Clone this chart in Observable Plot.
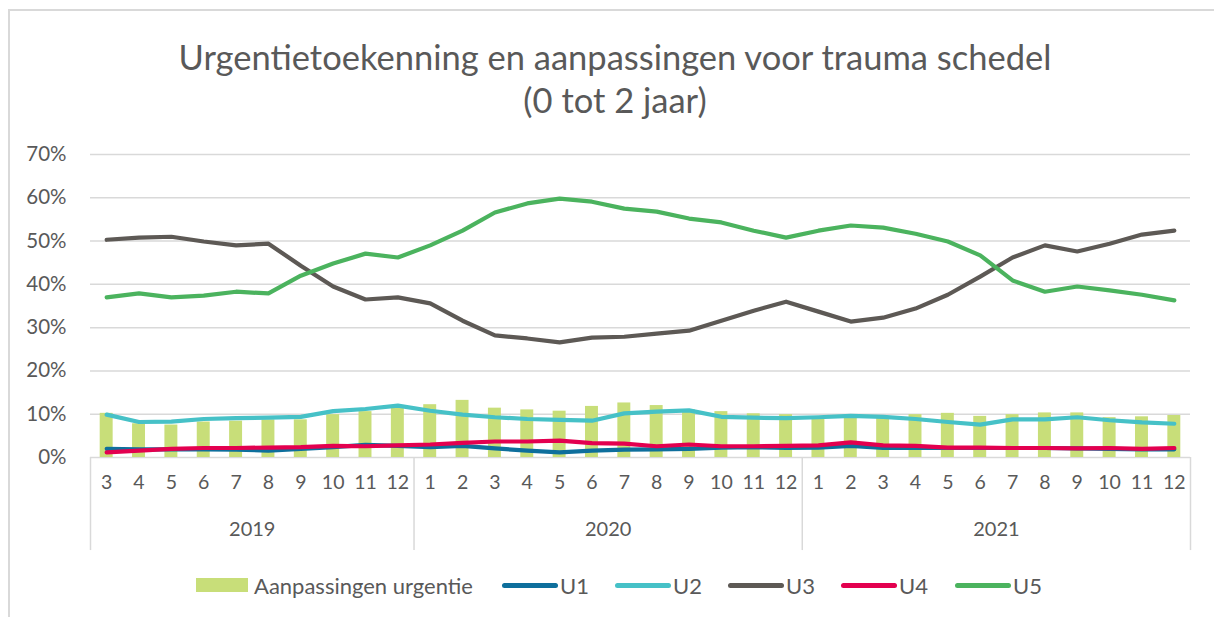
<!DOCTYPE html>
<html><head><meta charset="utf-8">
<script src="https://cdn.jsdelivr.net/npm/d3@7"></script>
<script src="https://cdn.jsdelivr.net/npm/@observablehq/plot@0.6"></script>
<style>
body{margin:0;background:#fff;overflow:hidden;width:1214px;height:617px;font-family:Lato,"Open Sans",sans-serif;color:#595959;}
#frame{position:absolute;left:8px;top:9px;width:1400px;height:800px;border:2px solid #d9d9d9;box-sizing:border-box;}
#title{position:absolute;left:8px;top:35px;width:1214px;text-align:center;font-size:34.5px;line-height:43px;}
#chart{position:absolute;left:0;top:130px;}
#legend{position:absolute;top:571px;left:0;width:1214px;height:28px;font-size:22px;}
#legend .item{position:absolute;top:0;height:28px;display:flex;align-items:center;white-space:nowrap;}
#legend .sw{width:52px;height:14px;margin-right:6px;}
#legend .ln{width:56px;height:5px;border-radius:3px;margin-right:2px;}
</style></head>
<body>
<div id="frame"></div>
<div id="title">Urgentietoekenning en aanpassingen voor trauma schedel<br>(0 tot 2 jaar)</div>
<div id="chart"></div>
<div id="legend"></div>
<script>
const years = ["2019", "2020", "2021"];
const months = [
  [3, 4, 5, 6, 7, 8, 9, 10, 11, 12],
  [1, 2, 3, 4, 5, 6, 7, 8, 9, 10, 11, 12],
  [1, 2, 3, 4, 5, 6, 7, 8, 9, 10, 11, 12]
];
// values in %
const aanpassingen = [
  10.2, 7.8, 7.5, 8.2, 8.4, 8.7, 8.7, 9.9, 10.6, 11.5,
  12.2, 13.2, 11.4, 11.0, 10.7, 11.8, 12.6, 12.0, 11.0, 10.6, 10.1, 9.9,
  9.0, 9.5, 9.0, 9.9, 10.2, 9.5, 9.9, 10.3, 10.3, 9.2, 9.4, 9.7
];
const U1 = [
  2.0, 1.9, 1.9, 1.9, 1.8, 1.6, 2.0, 2.4, 2.9, 2.7,
  2.4, 2.7, 2.1, 1.6, 1.2, 1.6, 1.8, 1.9, 2.0, 2.3, 2.4, 2.2,
  2.3, 2.7, 2.2, 2.2, 2.2, 2.2, 2.2, 2.2, 2.1, 2.0, 1.9, 1.9
];
const U2 = [
  9.9, 8.2, 8.3, 8.9, 9.1, 9.2, 9.4, 10.7, 11.2, 12.0,
  10.8, 9.9, 9.3, 8.9, 8.7, 8.5, 10.2, 10.6, 10.9, 9.4, 9.2, 9.1,
  9.3, 9.6, 9.4, 8.9, 8.2, 7.6, 8.8, 8.8, 9.3, 8.6, 8.1, 7.8
];
const U3 = [
  50.3, 50.8, 51.0, 49.9, 49.0, 49.4, 44.3, 39.5, 36.5, 37.0,
  35.6, 31.6, 28.2, 27.5, 26.6, 27.7, 27.9, 28.6, 29.3, 31.6, 33.9, 36.0,
  33.7, 31.4, 32.3, 34.4, 37.6, 41.8, 46.2, 49.0, 47.6, 49.4, 51.5, 52.4
];
const U4 = [
  1.2, 1.6, 2.0, 2.2, 2.2, 2.3, 2.4, 2.7, 2.6, 2.8,
  3.0, 3.4, 3.7, 3.7, 3.9, 3.3, 3.2, 2.6, 3.0, 2.6, 2.6, 2.7,
  2.8, 3.5, 2.8, 2.7, 2.3, 2.3, 2.2, 2.2, 2.1, 2.2, 2.0, 2.2
];
const U5 = [
  37.0, 37.9, 37.0, 37.4, 38.3, 37.9, 42.0, 44.8, 47.1, 46.2,
  49.0, 52.4, 56.6, 58.7, 59.8, 59.1, 57.5, 56.8, 55.2, 54.3, 52.4, 50.8,
  52.4, 53.6, 53.1, 51.7, 49.9, 46.7, 40.9, 38.3, 39.5, 38.6, 37.6, 36.3
];
const yTicks = [0, 0.1, 0.2, 0.3, 0.4, 0.5, 0.6, 0.7];
const seriesNames = ["U1", "U2", "U3", "U4", "U5"];
const seriesColors = ["#0e6f9c", "#46c1c7", "#5d5955", "#e3004f", "#4bb35e"];
const barName = "Aanpassingen urgentie";
const barColor = "#c8de79";

// build rows
const rows = [];
years.forEach((yr, gi) => months[gi].forEach(m => rows.push({key: yr + "-" + m, year: yr, month: String(m)})));
const seriesData = [U1, U2, U3, U4, U5];
rows.forEach((r, i) => {
  r.aanp = aanpassingen[i] / 100;
  seriesNames.forEach((n, s) => r[n] = seriesData[s][i] / 100);
});
const keys = rows.map(r => r.key);

const W = 1214, H = 430, ML = 90, MR = 24, MT = 24, MB = 103;
const bw = (W - ML - MR) / keys.length;

// group boundaries & year centers (all groups have an even number of months)
const boundaries = years.map((yr, gi) => yr + "-" + months[gi][0]);
const yearCenters = years.map((yr, gi) => ({year: yr, key: yr + "-" + months[gi][Math.floor(months[gi].length / 2)]}));

const chart = Plot.plot({
  width: W, height: H,
  marginLeft: ML, marginRight: MR, marginTop: MT, marginBottom: MB,
  x: {type: "band", domain: keys, padding: 0, round: false, axis: null},
  y: {domain: [0, 0.7], axis: null},
  style: {fontFamily: "Lato, 'Open Sans', sans-serif", fontSize: "19px", color: "#595959", background: "transparent", overflow: "visible"},
  marks: [
    Plot.ruleY(yTicks, {y: d => d, stroke: "#d9d9d9", strokeWidth: 1.5}),
    Plot.axisY({ticks: yTicks, tickFormat: d => Math.round(d * 100) + "%", tickSize: 0, tickPadding: 24, label: null, fontSize: 20.5, fill: "#595959"}),
    Plot.barY(rows, {x: "key", y: "aanp", fill: barColor, insetLeft: 9.7, insetRight: 9.7}),
    ...seriesNames.map((n, s) => Plot.line(rows, {x: "key", y: n, stroke: seriesColors[s], strokeWidth: 4.2, strokeLinecap: "round", strokeLinejoin: "round"})),
    // category axis decorations
    Plot.ruleX(boundaries, {x: d => d, y1: 0, y2: -0.215, dx: -bw / 2, stroke: "#d9d9d9", strokeWidth: 1.5}),
    Plot.ruleX([keys[keys.length - 1]], {x: d => d, y1: 0, y2: -0.215, dx: bw / 2, stroke: "#d9d9d9", strokeWidth: 1.5}),
    Plot.text(rows, {x: "key", text: "month", frameAnchor: "bottom", dy: 31, fill: "#595959", fontSize: 19.5}),
    Plot.text(yearCenters, {x: "key", text: "year", frameAnchor: "bottom", dy: 78, dx: -bw / 2, fill: "#595959", fontSize: 20})
  ]
});
document.getElementById("chart").appendChild(chart);

// legend
const lg = document.getElementById("legend");
const legendLeft = [196, 502, 615, 728, 841, 955];
let html = `<div class="item" style="left:${legendLeft[0]}px"><div class="sw" style="background:${barColor}"></div><span>${barName}</span></div>`;
seriesNames.forEach((n, s) => {
  html += `<div class="item" style="left:${legendLeft[s + 1]}px"><div class="ln" style="background:${seriesColors[s]}"></div><span>${n}</span></div>`;
});
lg.innerHTML = html;
</script>
</body></html>
